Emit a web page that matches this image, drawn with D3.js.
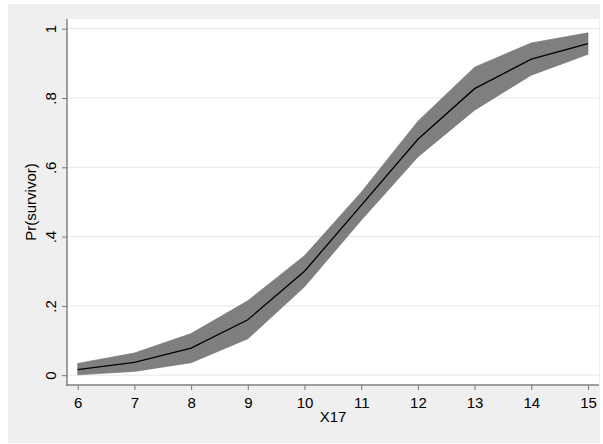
<!DOCTYPE html>
<html>
<head>
<meta charset="utf-8">
<script src="https://cdn.jsdelivr.net/npm/d3@7"></script>
<style>
  body { margin: 0; background: #fff; }
  svg { display: block; font-family: "Liberation Sans", Arial, sans-serif; }
</style>
</head>
<body>
<svg id="chart" width="603" height="444"></svg>
<script>
// values
const xValues = [6, 7, 8, 9, 10, 11, 12, 13, 14, 15];
const meanValues = [0.016, 0.037, 0.078, 0.16, 0.30, 0.49, 0.681, 0.827, 0.912, 0.957];
const upperValues = [0.034, 0.064, 0.12, 0.215, 0.345, 0.528, 0.733, 0.889, 0.959, 0.988];
const lowerValues = [0.001, 0.011, 0.036, 0.105, 0.255, 0.447, 0.63, 0.765, 0.866, 0.926];
const yTicks = [0, 0.2, 0.4, 0.6, 0.8, 1];
const yTickLabels = ['0', '.2', '.4', '.6', '.8', '1'];

const svg = d3.select('#chart');

const plot = { left: 67, right: 599, top: 19, bottom: 385 };

// outer graph region
svg.append('rect')
  .attr('x', 8).attr('y', 4)
  .attr('width', 592).attr('height', 439)
  .attr('fill', '#efefef');

svg.append('rect')
  .attr('x', plot.left).attr('y', plot.top)
  .attr('width', plot.right - plot.left).attr('height', plot.bottom - plot.top)
  .attr('fill', '#fff');

const x = d3.scaleLinear().domain([6, 15]).range([77.7, 588]);
const y = d3.scaleLinear().domain([0, 1]).range([375.2, 28.7]);

// gridlines
svg.append('g')
  .selectAll('line')
  .data(yTicks)
  .enter().append('line')
  .attr('x1', plot.left + 1)
  .attr('x2', plot.right)
  .attr('y1', (d) => y(d))
  .attr('y2', (d) => y(d))
  .attr('stroke', '#e6e6e6')
  .attr('stroke-width', 1);

const data = xValues.map((v, i) => ({ x: v, mean: meanValues[i], hi: upperValues[i], lo: lowerValues[i] }));

const area = d3.area()
  .x((d) => x(d.x))
  .y0((d) => y(d.lo))
  .y1((d) => y(d.hi));

svg.append('path')
  .datum(data)
  .attr('d', area)
  .attr('fill', '#7f7f7f')
  .attr('stroke', '#6f6f6f')
  .attr('stroke-width', 0.6);

const line = d3.line()
  .x((d) => x(d.x))
  .y((d) => y(d.mean));

svg.append('path')
  .datum(data)
  .attr('d', line)
  .attr('fill', 'none')
  .attr('stroke', '#000')
  .attr('stroke-width', 1.3);

// y axis
const yAxis = d3.axisLeft(y)
  .tickValues(yTicks)
  .tickFormat((d, i) => yTickLabels[i])
  .tickSize(5)
  .tickPadding(6);

const gy = svg.append('g')
  .attr('transform', 'translate(' + plot.left + ',0)')
  .call(yAxis)
  .attr('font-family', null);
gy.select('.domain')
  .attr('d', 'M0,' + plot.top + 'V' + (plot.bottom + 1))
  .attr('stroke', '#808080').attr('stroke-width', 1.5);
gy.selectAll('.tick line').attr('stroke', '#777');
gy.selectAll('.tick text')
  .attr('x', -11)
  .attr('y', 0)
  .attr('dy', 0)
  .attr('transform', 'rotate(-90,-11,0)')
  .attr('text-anchor', 'middle')
  .style('font-size', '15px')
  .attr('fill', '#000');

// x axis
const xAxis = d3.axisBottom(x)
  .tickValues(xValues)
  .tickFormat(d3.format('d'))
  .tickSize(5)
  .tickPadding(6);

const gx = svg.append('g')
  .attr('transform', 'translate(0,' + plot.bottom + ')')
  .call(xAxis)
  .attr('font-family', null);
gx.select('.domain')
  .attr('d', 'M' + (plot.left - 1) + ',0H' + plot.right)
  .attr('stroke', '#808080').attr('stroke-width', 1.5);
gx.selectAll('.tick line').attr('stroke', '#777');
gx.selectAll('.tick text')
  .attr('dy', 0)
  .attr('y', 23)
  .style('font-size', '15px')
  .attr('fill', '#000');

// axis titles
svg.append('text')
  .attr('transform', 'translate(36,' + ((plot.top + plot.bottom) / 2) + ') rotate(-90)')
  .attr('text-anchor', 'middle')
  .style('font-size', '15px')
  .text('Pr(survivor)');

svg.append('text')
  .attr('x', (plot.left + plot.right) / 2)
  .attr('y', 422)
  .attr('text-anchor', 'middle')
  .style('font-size', '15px')
  .text('X17');
</script>
</body>
</html>
